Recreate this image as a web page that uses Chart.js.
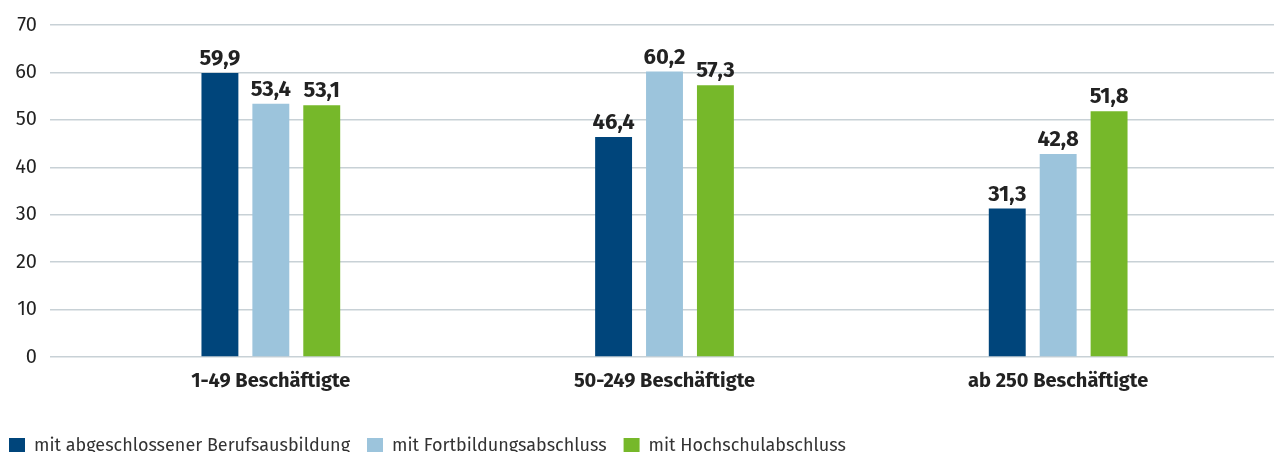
<!DOCTYPE html>
<html>
<head>
<meta charset="utf-8">
<script src="https://cdn.jsdelivr.net/npm/chart.js@4"></script>
<style>
  html, body { margin: 0; padding: 0; background: #fff; }
  #wrap { width: 1274px; height: 452px; position: relative; }
</style>
</head>
<body>
<div id="wrap"><canvas id="myChart"></canvas></div>
<script>
// Daten
const categories = ['1-49 Beschäftigte', '50-249 Beschäftigte', 'ab 250 Beschäftigte'];
const seriesNames = ['mit abgeschlossener Berufsausbildung', 'mit Fortbildungsabschluss', 'mit Hochschulabschluss'];
const berufsausbildung = [59.9, 46.4, 31.3];
const fortbildung = [53.4, 60.2, 42.8];
const hochschule = [53.1, 57.3, 51.8];
const yTicks = [0, 10, 20, 30, 40, 50, 60, 70];

const colors = ['#00457b', '#9cc4dc', '#76b82a'];
const fontFamily = "'Fira Sans', 'Noto Sans', 'Open Sans', sans-serif";

// Werte ueber den Balken
const valueLabels = {
  id: 'valueLabels',
  afterDatasetsDraw(chart) {
    const ctx = chart.ctx;
    ctx.save();
    ctx.font = 'bold 22px ' + fontFamily;
    ctx.fillStyle = '#222';
    ctx.textAlign = 'center';
    ctx.textBaseline = 'bottom';
    chart.data.datasets.forEach((ds, i) => {
      chart.getDatasetMeta(i).data.forEach((bar, j) => {
        ctx.fillText(ds.data[j].toFixed(1).replace('.', ','), bar.x, bar.y - 3);
      });
    });
    ctx.restore();
  }
};

const gridOpts = (len) => ({
  color: '#c8d1d6',
  lineWidth: 1.5,
  tickLength: len,
  drawTicks: true
});

const ctx = document.getElementById('myChart');
new Chart(ctx, {
  type: 'bar',
  data: {
    labels: categories,
    datasets: [
      { label: seriesNames[0], data: berufsausbildung, backgroundColor: colors[0] },
      { label: seriesNames[1], data: fortbildung, backgroundColor: colors[1] },
      { label: seriesNames[2], data: hochschule, backgroundColor: colors[2] }
    ]
  },
  options: {
    responsive: true,
    maintainAspectRatio: false,
    animation: false,
    datasets: {
      bar: { categoryPercentage: 0.388, barPercentage: 0.725 }
    },
    layout: { padding: { top: 9, left: -8, right: 0, bottom: -13 } },
    plugins: {
      tooltip: { enabled: false },
      legend: {
        position: 'bottom',
        align: 'start',
        labels: {
          boxWidth: 16,
          boxHeight: 16,
          padding: 17,
          color: '#333',
          font: { family: fontFamily, size: 18 }
        }
      }
    },
    scales: {
      x: {
        grid: { display: false },
        border: { display: false },
        ticks: {
          color: '#222',
          padding: 4,
          font: { family: fontFamily, size: 20, weight: 'bold' }
        },
        afterFit(scale) { scale.height = 63; }
      },
      y: {
        min: 0,
        max: 70,
        afterBuildTicks(scale) { scale.ticks = yTicks.map(v => ({ value: v })); },
        grid: gridOpts(24),
        border: { display: false },
        ticks: {
          color: '#222',
          padding: 13,
          font: { family: fontFamily, size: 20 }
        },
        afterFit(scale) { scale.width = 82; }
      },
      yRight: {
        position: 'right',
        min: 0,
        max: 70,
        afterBuildTicks(scale) { scale.ticks = yTicks.map(v => ({ value: v })); },
        grid: Object.assign(gridOpts(19), { drawOnChartArea: false }),
        border: { display: false },
        ticks: { display: false },
        afterFit(scale) { scale.width = 19; }
      }
    }
  },
  plugins: [valueLabels]
});
</script>
</body>
</html>
